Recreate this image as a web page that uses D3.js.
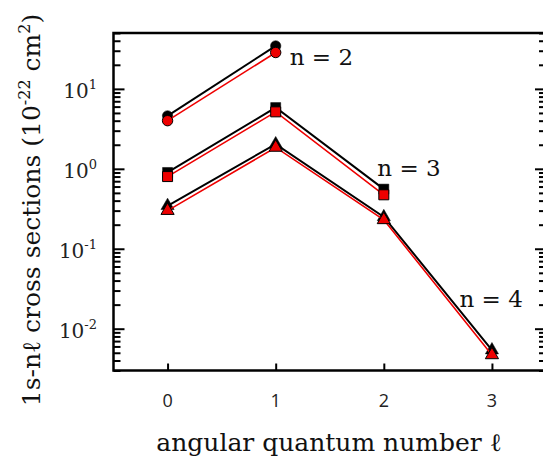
<!DOCTYPE html>
<html>
<head>
<meta charset="utf-8">
<script src="https://cdn.jsdelivr.net/npm/d3@7"></script>
<style>
  html, body { margin: 0; padding: 0; background: #fff; }
  svg { display: block; }
</style>
</head>
<body>
<svg id="chart" width="543" height="464"></svg>
<script>
// Angular quantum number on the x axis
const ells = [0, 1, 2, 3];
const xTicks = [0, 1, 2, 3];
const yDecades = [-2, -1, 0, 1];

// 1s -> n l cross sections (10^-22 cm^2), two calculations per shell
const n2Black = [4.6, 34.5];
const n2Red = [4.0, 28.5];
const n3Black = [0.90, 5.84, 0.557];
const n3Red = [0.80, 5.16, 0.473];
const n4Black = [0.345, 2.04, 0.25, 0.0054];
const n4Red = [0.30, 1.85, 0.23, 0.0047];

const shellLabels = [
  { text: "n = 2", ell: 1.13, value: 19.9 },
  { text: "n = 3", ell: 1.94, value: 0.814 },
  { text: "n = 4", ell: 2.70, value: 0.0187 }
];

const svg = d3.select("#chart");
const plotLeft = 113.5, plotRight = 546, plotTop = 33, plotBottom = 370.5;

const x = d3.scaleLinear().domain([-0.5, 3.5]).range([plotLeft, plotRight]);
const y = d3.scaleLog().domain([0.003, 50]).range([plotBottom, plotTop]);

const serif = "'DejaVu Serif', 'Liberation Serif', serif";
const sans = "'Open Sans', 'Noto Sans', sans-serif";

// Log ticks: decades long, 2..9 short
const majorTicks = yDecades.map(k => Math.pow(10, k));
const minorTicks = [];
for (let k = -3; k <= 1; k++) {
  for (let m = 2; m <= 9; m++) {
    const v = m * Math.pow(10, k);
    if (v >= y.domain()[0] && v <= y.domain()[1]) minorTicks.push(v);
  }
}

function yAxisTicks(g, dir) {
  g.append("g")
    .call((dir > 0 ? d3.axisLeft(y) : d3.axisRight(y))
      .tickValues(minorTicks).tickSize(-7).tickFormat(""))
    .call(s => s.select(".domain").remove())
    .call(s => s.selectAll("line").attr("stroke", "#000").attr("stroke-width", 2));
  g.append("g")
    .call((dir > 0 ? d3.axisLeft(y) : d3.axisRight(y))
      .tickValues(majorTicks).tickSize(-11).tickFormat(""))
    .call(s => s.select(".domain").remove())
    .call(s => s.selectAll("line").attr("stroke", "#000").attr("stroke-width", 2));
}

yAxisTicks(svg.append("g").attr("transform", `translate(${plotLeft},0)`), 1);
yAxisTicks(svg.append("g").attr("transform", `translate(${plotRight},0)`), -1);

// Bottom axis with inward ticks
svg.append("g")
  .attr("transform", `translate(0,${plotBottom})`)
  .call(d3.axisBottom(x).tickValues(xTicks).tickSize(-7).tickFormat(""))
  .call(s => s.select(".domain").remove())
  .call(s => s.selectAll("line").attr("stroke", "#000").attr("stroke-width", 2));

// Frame
svg.append("path")
  .attr("d", `M${plotLeft},${plotTop}H${plotRight}V${plotBottom}H${plotLeft}Z`)
  .attr("fill", "none").attr("stroke", "#000").attr("stroke-width", 2.5);

// x tick labels
svg.append("g").selectAll("text").data(xTicks).join("text")
  .attr("x", d => x(d)).attr("y", plotBottom + 36)
  .attr("text-anchor", "middle")
  .attr("font-family", sans).attr("font-size", 18).attr("fill", "#222")
  .text(d => d);

// y tick labels 10^k
const yl = svg.append("g").selectAll("text").data(yDecades).join("text")
  .attr("x", 97).attr("y", d => y(Math.pow(10, d)) + 9.5)
  .attr("text-anchor", "end")
  .attr("font-family", serif).attr("font-size", 20).attr("fill", "#222");
yl.append("tspan").text("10");
yl.append("tspan").attr("dy", -9).attr("font-size", 13).text(d => d);

// Axis titles
svg.append("text")
  .attr("x", 329).attr("y", 451)
  .attr("text-anchor", "middle")
  .attr("font-family", serif).attr("font-size", 25).attr("fill", "#111")
  .text("angular quantum number ℓ");

const yt = svg.append("text")
  .attr("transform", "translate(40,210) rotate(-90)")
  .attr("text-anchor", "middle")
  .attr("font-family", serif).attr("font-size", 25).attr("fill", "#111");
yt.append("tspan").text("1s-nℓ cross sections (10");
yt.append("tspan").attr("dy", -10).attr("font-size", 16).text("-22");
yt.append("tspan").attr("dy", 10).text(" cm");
yt.append("tspan").attr("dy", -10).attr("font-size", 16).text("2");
yt.append("tspan").attr("dy", 10).text(")");

// Series
const series = [
  { values: n2Black, color: "#000", symbol: d3.symbolCircle, size: 85 },
  { values: n3Black, color: "#000", symbol: d3.symbolSquare, size: 100 },
  { values: n4Black, color: "#000", symbol: d3.symbolTriangle, size: 75 },
  { values: n2Red, color: "#ee0000", symbol: d3.symbolCircle, size: 85 },
  { values: n3Red, color: "#ee0000", symbol: d3.symbolSquare, size: 100 },
  { values: n4Red, color: "#ee0000", symbol: d3.symbolTriangle, size: 75 }
];

const line = d3.line().x((d, i) => x(ells[i])).y(d => y(d));

series.forEach(s => {
  const g = svg.append("g");
  g.append("path").datum(s.values)
    .attr("d", line)
    .attr("fill", "none")
    .attr("stroke", s.color)
    .attr("stroke-width", s.color === "#000" ? 2 : 1.6);
  g.selectAll("path.m").data(s.values).join("path")
    .attr("class", "m")
    .attr("transform", (d, i) => `translate(${x(ells[i])},${y(d)})`)
    .attr("d", d3.symbol().type(s.symbol).size(s.size))
    .attr("fill", s.color)
    .attr("stroke", "#000")
    .attr("stroke-width", s.color === "#000" ? 0.5 : 1);
});

// Shell labels
svg.append("g").selectAll("text").data(shellLabels).join("text")
  .attr("x", d => x(d.ell)).attr("y", d => y(d.value))
  .attr("font-family", serif).attr("font-size", 23).attr("fill", "#111")
  .text(d => d.text);
</script>
</body>
</html>
